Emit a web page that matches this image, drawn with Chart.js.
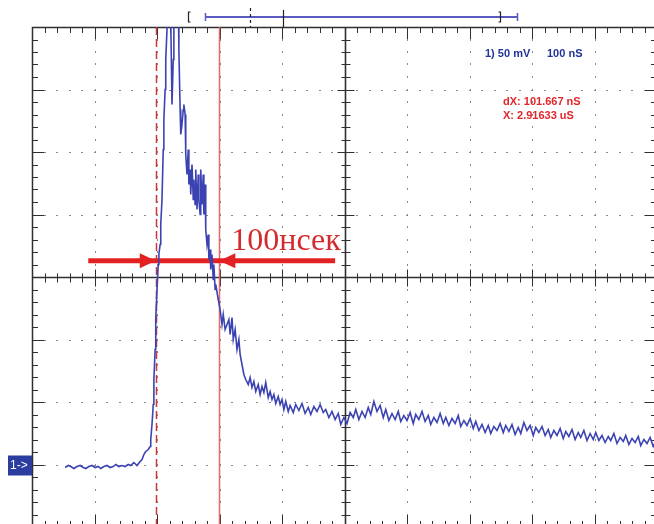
<!DOCTYPE html>
<html>
<head>
<meta charset="utf-8">
<script src="https://cdn.jsdelivr.net/npm/chart.js@4.4.1/dist/chart.umd.min.js"></script>
<style>
  html, body { margin: 0; padding: 0; background: #fff; width: 654px; height: 524px; overflow: hidden; }
  #wrap { position: absolute; left: 0; top: 0; width: 700px; height: 560px; }
</style>
</head>
<body>
<div id="wrap"><canvas id="scope" width="700" height="560"></canvas></div>
<script>
// Channel 1 acquisition: time from the left screen edge (ns) and voltage above ground (mV)
const timeNs = [
  53,58,62,67,72,77,82,86,91,96,101,106,110,115,120,125,130,134,139,144,149,154,158,163,168,173,
  176,179,182,186,189,190,192,194,195,197,198,200,202,203,205,206,208,
  210,211,213,214,216,218,221,222,224,226,227,230,234,235,237,238,240,242,243,245,
  246,248,250,251,253,254,256,258,259,261,262,264,266,267,269,270,272,274,275,277,278,280,282,283,285,286,288,290,291,293,
  294,298,301,304,306,309,312,315,317,320,322,325,328,331,
  333,336,339,342,346,349,352,355,358,362,365,368,371,374,378,381,384,387,390,394,397,400,
  403,406,410,413,418,422,427,432,437,442,
  446,451,456,461,466,470,475,480,485,490,
  494,499,504,509,514,518,523,528,533,538,
  542,547,552,557,562,566,571,576,581,586,
  590,595,600,605,610,614,619,624,629,634,
  638,643,648,653,658,662,667,672,677,682,
  686,691,696,701,706,710,715,720,725,730,
  734,739,744,749,754,758,763,768,773,778,
  782,787,792,797,802,806,811,816,821,826,
  830,835,840,845,850,854,859,864,869,874,
  878,883,888,893,898,902,907,912,917,922,
  926,931,936,941,946,950,955,960,965,970,
  974,979,984,989,994,998
];
const voltageMv = [
  -2.4,-0.8,-1.6,-3.2,-1.6,-0.8,-2.4,-3.2,-1.6,-0.8,-2.4,-1.6,-3.2,-1.6,-0.8,-2.4,-1.6,0,-1.6,-0.8,-1.6,0,-0.8,1.6,-0.8,2.4,
  4,8,10.4,12,14.4,20,32,48,68,92,116,140,160,168,176,192,212,
  252,276,300,324,348,364,420,356,288,324,356,420,380,332,284,264,272,284,288,280,
  248,232,252,224,236,216,240,212,228,208,236,204,232,212,200,236,208,232,200,224,188,176,184,164,172,156,168,148,160,140,
  144,132,124,112,120,108,112,116,104,117.6,100,108,92,100,
  88,80,72,68,64,69.6,61.6,66.4,58.4,64,56,62.4,57.6,65.6,53.6,58.4,52,56,48.8,54.4,48,52,
  44,50.4,42.4,47.2,41.6,48,43.2,48.8,40.8,45.6,
  40,46.4,42.4,48,41.6,44,37.6,42.4,36,40.8,
  32,37.6,32.8,41.6,37.6,44,36,42.4,37.6,45.6,
  40,50.4,42.4,47.2,37.6,44,35.2,40.8,36,42.4,
  34.4,39.2,35.2,41.6,32.8,40,36,42.4,34.4,39.2,
  32,37.6,33.6,40.8,32.8,37.6,31.2,36.8,32.8,39.2,
  30.4,35.2,31.2,36.8,28.8,34.4,27.2,32,25.6,31.2,
  24.8,30.4,27.2,32.8,25.6,31.2,26.4,32,24,29.6,
  24.8,33.6,27.2,31.2,23.2,29.6,25.6,30.4,23.2,28,
  21.6,27.2,23.2,28.8,20.8,26.4,22.4,28,20,25.6,
  21.6,27.2,19.2,24.8,20,25.6,19.2,23.2,17.6,22.4,
  19.2,24.8,16.8,21.6,18.4,23.2,16,20.8,17.6,22.4,
  15.2,20,16.8,21.6,14.4,18.4
];

// Time cursors (ns): A and B, dX = 101.667 ns
const cursorNs = [198, 299.667];
// Pulse width marker level (mV) and its span (ns)
const markerMv = 163;
const markerSpanNs = [90, 485];
const markerLabel = '100нсек';

// Screen readouts
const channelReadout = ['1) 50 mV', '100 nS'];
const cursorReadout = ['dX: 101.667 nS', 'X: 2.91633 uS'];

// Screen scaling: 10 x 100 ns horizontally, 8 x 50 mV vertically
const timeRange = [0, 1000];
const voltRange = [-50, 350];
const timePerDiv = 100, voltPerDiv = 50, subDivs = 5;

const GRID = '#2f2f2f';

const graticule = {
  id: 'graticule',
  beforeDatasetsDraw(chart) {
    const { ctx, chartArea: a, scales: { x, y } } = chart;
    const X = v => Math.round(x.getPixelForValue(v)) + 0.5;
    const Y = v => Math.round(y.getPixelForValue(v)) + 0.5;
    const tMid = (timeRange[0] + timeRange[1]) / 2;
    const vMid = (voltRange[0] + voltRange[1]) / 2;
    const tStep = timePerDiv / subDivs, vStep = voltPerDiv / subDivs;
    ctx.save();

    // dotted division lines
    ctx.fillStyle = '#8a8a8a';
    for (let t = timeRange[0] + timePerDiv; t < timeRange[1]; t += timePerDiv) {
      if (t === tMid) continue;
      const px = X(t) - 0.5;
      for (let v = voltRange[0] + vStep; v < voltRange[1]; v += vStep) {
        ctx.fillRect(px, Y(v) - 1.5, 1, 2);
      }
    }
    for (let v = voltRange[0] + voltPerDiv; v < voltRange[1]; v += voltPerDiv) {
      if (v === vMid) continue;
      const py = Y(v) - 0.5;
      for (let t = timeRange[0] + tStep; t < timeRange[1]; t += tStep) {
        ctx.fillRect(X(t) - 1.5, py, 2, 1);
      }
    }

    ctx.strokeStyle = GRID;
    ctx.lineWidth = 1;
    ctx.beginPath();
    // ticks along top/bottom borders and the centre horizontal axis
    for (let t = timeRange[0]; t <= timeRange[1]; t += tStep) {
      const major = Math.abs(t % timePerDiv) < 1e-6;
      const px = X(t);
      const len = major ? 12 : 6;
      ctx.moveTo(px, a.top); ctx.lineTo(px, a.top + len);
      ctx.moveTo(px, a.bottom); ctx.lineTo(px, a.bottom - len);
      const h = major ? 8 : 4;
      const cy = Y(vMid);
      ctx.moveTo(px, cy - h); ctx.lineTo(px, cy + h + 1);
    }
    // ticks along left/right borders and the centre vertical axis
    for (let v = voltRange[0]; v <= voltRange[1]; v += vStep) {
      const major = Math.abs((v - voltRange[0]) % voltPerDiv) < 1e-6;
      const py = Y(v);
      const len = major ? 12 : 6;
      ctx.moveTo(a.left, py); ctx.lineTo(a.left + len, py);
      ctx.moveTo(a.right, py); ctx.lineTo(a.right - len, py);
      const h = major ? 8 : 4;
      const cx = X(tMid);
      ctx.moveTo(cx - h, py); ctx.lineTo(cx + h + 1, py);
    }
    ctx.stroke();

    // centre axes
    ctx.lineWidth = 1.6;
    ctx.beginPath();
    ctx.moveTo(a.left, Y(vMid)); ctx.lineTo(a.right, Y(vMid));
    ctx.moveTo(X(tMid), a.top); ctx.lineTo(X(tMid), a.bottom);
    ctx.stroke();

    // screen border
    ctx.lineWidth = 1.5;
    ctx.strokeRect(Math.round(a.left) + 0.5, Math.round(a.top) + 0.5, a.right - a.left, a.bottom - a.top);

    // cursor A (dashed) and cursor B (solid)
    ctx.lineWidth = 1.5;
    ctx.strokeStyle = '#c8383a';
    ctx.setLineDash([8, 4]);
    ctx.beginPath();
    ctx.moveTo(X(cursorNs[0]), a.top); ctx.lineTo(X(cursorNs[0]), a.bottom);
    ctx.stroke();
    ctx.setLineDash([]);
    ctx.strokeStyle = '#e46a6a';
    ctx.beginPath();
    ctx.moveTo(X(cursorNs[1]), a.top); ctx.lineTo(X(cursorNs[1]), a.bottom);
    ctx.stroke();

    // pulse width marker: bar with inward arrowheads meeting the cursors
    const my = y.getPixelForValue(markerMv);
    const xa = x.getPixelForValue(cursorNs[0]);
    const xb = x.getPixelForValue(cursorNs[1]);
    ctx.strokeStyle = '#e22222';
    ctx.fillStyle = '#e22222';
    ctx.lineWidth = 5;
    ctx.beginPath();
    ctx.moveTo(x.getPixelForValue(markerSpanNs[0]), my);
    ctx.lineTo(x.getPixelForValue(markerSpanNs[1]), my);
    ctx.stroke();
    const head = (tip, dir) => {
      ctx.beginPath();
      ctx.moveTo(tip, my);
      ctx.lineTo(tip - dir * 16, my - 7.5);
      ctx.lineTo(tip - dir * 16, my + 7.5);
      ctx.closePath();
      ctx.fill();
    };
    head(xa, 1);
    head(xb, -1);
    ctx.restore();
  },
  afterDraw(chart) {
    const { ctx, chartArea: a, scales: { x, y } } = chart;
    ctx.save();

    // marker caption
    ctx.fillStyle = '#d42a2c';
    ctx.font = '32px "Liberation Serif", "Times New Roman", serif';
    ctx.textBaseline = 'alphabetic';
    ctx.fillText(markerLabel, x.getPixelForValue(cursorNs[1]) + 12, y.getPixelForValue(markerMv) - 11);

    // readouts
    ctx.font = 'bold 11px "Liberation Sans", Arial, sans-serif';
    ctx.textBaseline = 'middle';
    ctx.fillStyle = '#22349a';
    ctx.fillText(channelReadout[0], 485, 54);
    ctx.fillText(channelReadout[1], 547, 54);
    ctx.fillStyle = '#e3262b';
    ctx.fillText(cursorReadout[0], 503, 102);
    ctx.fillText(cursorReadout[1], 503, 116);

    // channel 1 ground reference tag
    const gy = y.getPixelForValue(0);
    ctx.fillStyle = '#2b3e9f';
    ctx.fillRect(8, gy - 9, a.left - 8, 20);
    ctx.fillStyle = '#ffffff';
    ctx.font = '12px "Liberation Sans", Arial, sans-serif';
    ctx.fillText('1->', 10, gy + 1);

    // record position bar above the screen
    const by = a.top - 10;
    const bx = v => Math.round(x.getPixelForValue(v)) + 0.5;
    ctx.strokeStyle = '#5a5ac0';
    ctx.lineWidth = 2;
    ctx.beginPath();
    ctx.moveTo(bx(277), by); ctx.lineTo(bx(776), by);
    ctx.stroke();
    ctx.lineWidth = 1.5;
    ctx.beginPath();
    ctx.moveTo(bx(277), by - 4); ctx.lineTo(bx(277), by + 4);
    ctx.moveTo(bx(776), by - 4); ctx.lineTo(bx(776), by + 4);
    ctx.stroke();
    ctx.strokeStyle = '#222';
    ctx.lineWidth = 1.2;
    ctx.beginPath();
    // brackets
    ctx.moveTo(bx(253), by - 5); ctx.lineTo(bx(250), by - 5); ctx.lineTo(bx(250), by + 5); ctx.lineTo(bx(253), by + 5);
    ctx.moveTo(bx(745), by - 5); ctx.lineTo(bx(748), by - 5); ctx.lineTo(bx(748), by + 5); ctx.lineTo(bx(745), by + 5);
    // trigger position
    ctx.moveTo(bx(402), a.top - 17); ctx.lineTo(bx(402), a.top);
    ctx.stroke();
    ctx.setLineDash([3, 3]);
    ctx.beginPath();
    ctx.moveTo(bx(349), a.top - 19); ctx.lineTo(bx(349), a.top);
    ctx.stroke();
    ctx.restore();
  }
};

new Chart(document.getElementById('scope'), {
  type: 'line',
  data: {
    datasets: [{
      label: 'CH1',
      data: timeNs.map((t, i) => ({ x: t, y: voltageMv[i] })),
      borderColor: '#3b43b2',
      borderWidth: 1.6,
      pointRadius: 0,
      tension: 0,
      fill: false,
      clip: 0
    }]
  },
  options: {
    responsive: false,
    animation: false,
    events: [],
    layout: { padding: { left: 32, top: 27, right: 43, bottom: 33 } },
    scales: {
      x: { type: 'linear', min: timeRange[0], max: timeRange[1], display: false },
      y: { type: 'linear', min: voltRange[0], max: voltRange[1], display: false }
    },
    plugins: { legend: { display: false }, tooltip: { enabled: false } }
  },
  plugins: [graticule]
});
</script>
</body>
</html>
